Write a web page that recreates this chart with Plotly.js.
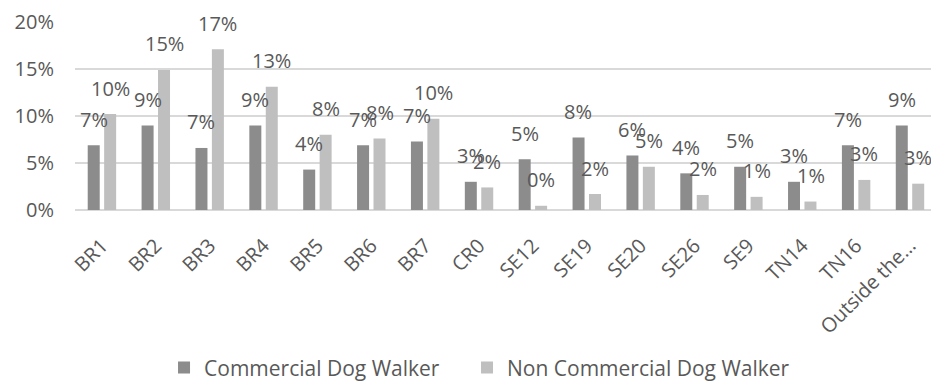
<!DOCTYPE html>
<html>
<head>
<meta charset="utf-8">
<script src="https://cdn.plot.ly/plotly-3.0.1.min.js"></script>
<style>
  html, body { margin: 0; padding: 0; background: #ffffff; }
  #chart { width: 931px; height: 381px; }
</style>
</head>
<body>
<div id="chart"></div>
<script>
// Share of dog walkers by postcode district
const districts = ['BR1', 'BR2', 'BR3', 'BR4', 'BR5', 'BR6', 'BR7', 'CR0', 'SE12', 'SE19',
                   'SE20', 'SE26', 'SE9', 'TN14', 'TN16', 'Outside the…'];
const commercial = [0.069, 0.090, 0.066, 0.090, 0.043, 0.069, 0.073, 0.030, 0.054, 0.077,
                    0.058, 0.039, 0.046, 0.030, 0.069, 0.090];
const nonCommercial = [0.102, 0.149, 0.171, 0.131, 0.080, 0.076, 0.097, 0.024, 0.0045, 0.017,
                       0.046, 0.016, 0.014, 0.009, 0.032, 0.028];
const seriesNames = ['Commercial Dog Walker', 'Non Commercial Dog Walker'];
const yTicks = [0, 0.05, 0.10, 0.15, 0.20];

const darkGrey = '#8c8c8c';
const lightGrey = '#bfbfbf';
const textGrey = '#595959';
const FONT = '"Open Sans", "Liberation Sans", sans-serif';

const traces = [
  { type: 'bar', name: seriesNames[0], x: districts, y: commercial,
    marker: { color: darkGrey }, hoverinfo: 'skip', legendwidth: 258 },
  { type: 'bar', name: seriesNames[1], x: districts, y: nonCommercial,
    marker: { color: lightGrey }, hoverinfo: 'skip', legendwidth: 320 }
];

// Value labels floating above each bar, offset to their bar within the group
const annotations = [];
const groupOffset = 8.3;
[commercial, nonCommercial].forEach((vals, s) => {
  vals.forEach((v, i) => {
    annotations.push({
      x: districts[i], y: v, xref: 'x', yref: 'y',
      text: Math.round(v * 100) + '%',
      showarrow: false,
      xanchor: 'center', yanchor: 'middle',
      xshift: s === 0 ? -groupOffset : groupOffset,
      yshift: 26,
      font: { family: FONT, size: 20, color: textGrey }
    });
  });
});

const layout = {
  width: 931, height: 381,
  margin: { l: 75, r: 0, t: 22, b: 171, autoexpand: false },
  paper_bgcolor: '#ffffff', plot_bgcolor: '#ffffff',
  barmode: 'group', bargap: 0.39, bargroupgap: 0.27,
  font: { family: FONT, size: 20, color: textGrey },
  xaxis: {
    type: 'category', range: [-0.5, 15.39], automargin: false,
    tickangle: -45, ticks: '', showgrid: false, zeroline: false,
    showline: false, ticklabelstandoff: 19,
    tickfont: { family: FONT, size: 20, color: textGrey }
  },
  yaxis: {
    range: [0, 0.2], tickvals: yTicks, tickformat: '.0%', automargin: false,
    showgrid: true, gridcolor: '#d9d9d9', gridwidth: 2,
    zeroline: true, zerolinecolor: '#d9d9d9', zerolinewidth: 2,
    showline: false, ticks: '', ticklabelstandoff: 20,
    tickfont: { family: FONT, size: 20, color: textGrey }
  },
  showlegend: true,
  legend: {
    orientation: 'h', x: 0.1040, xanchor: 'left', y: -0.84, yanchor: 'middle',
    font: { family: FONT, size: 21, color: textGrey },
    traceorder: 'normal'
  },
  annotations: annotations
};

Plotly.newPlot('chart', traces, layout, { displayModeBar: false, staticPlot: true });
</script>
</body>
</html>
